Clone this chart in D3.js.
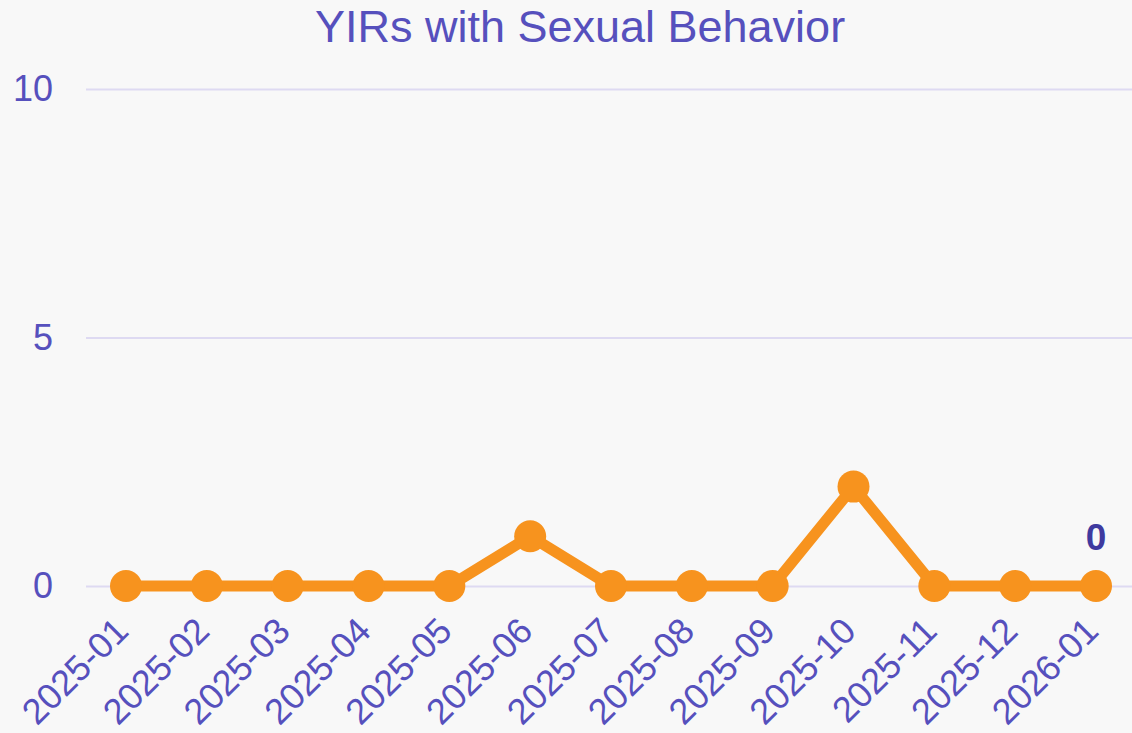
<!DOCTYPE html>
<html>
<head>
<meta charset="utf-8">
<script src="https://cdn.jsdelivr.net/npm/d3@7"></script>
<style>
  html, body { margin: 0; padding: 0; background: #f8f8f8; }
  svg { display: block; font-family: "Liberation Sans", Arial, sans-serif; }
</style>
</head>
<body>
<svg id="grafico" width="1132" height="733"></svg>
<script>
const titulo = 'YIRs with Sexual Behavior';
const meses = ['2025-01','2025-02','2025-03','2025-04','2025-05','2025-06','2025-07',
  '2025-08','2025-09','2025-10','2025-11','2025-12','2026-01'];
const valores = [0, 0, 0, 0, 0, 1, 0, 0, 0, 2, 0, 0, 0];
const ticks_y = [0, 5, 10];

const ancho = 1132, alto = 733;
const margen = { top: 89, right: 36, bottom: 147, left: 126 };
const color_texto = '#5650bd';
const color_linea = '#f7931e';

const svg = d3.select('#grafico');

const x = d3.scalePoint()
  .domain(meses)
  .range([margen.left, ancho - margen.right]);

const y = d3.scaleLinear()
  .domain([0, 10])
  .range([alto - margen.bottom, margen.top]);

// fondo
svg.append('rect')
  .attr('width', ancho).attr('height', alto)
  .attr('fill', '#f8f8f8');

// titulo
svg.append('text')
  .attr('x', 580).attr('y', 42)
  .attr('text-anchor', 'middle')
  .attr('font-size', 45)
  .attr('fill', color_texto)
  .text(titulo);

// grilla + eje y
const ejeY = svg.append('g')
  .attr('transform', `translate(86,0)`)
  .call(d3.axisLeft(y).tickValues(ticks_y).tickSize(-(ancho - 86)).tickPadding(33));

ejeY.select('.domain').remove();
ejeY.selectAll('.tick line')
  .attr('stroke', '#dedaf2')
  .attr('stroke-width', 2);
ejeY.selectAll('.tick text')
  .attr('font-size', 36)
  .attr('font-family', '"Liberation Sans", Arial, sans-serif')
  .attr('fill', color_texto);

// eje x
const ejeX = svg.append('g')
  .attr('transform', `translate(0,${alto - margen.bottom})`)
  .call(d3.axisBottom(x).tickSize(0).tickPadding(0));

ejeX.select('.domain').remove();
ejeX.selectAll('.tick text')
  .attr('font-size', 36)
  .attr('font-family', '"Liberation Sans", Arial, sans-serif')
  .attr('fill', color_texto)
  .attr('text-anchor', 'end')
  .attr('dy', null)
  .attr('y', 0)
  .attr('transform', 'translate(4,47) rotate(-45)');

// linea
const linea = d3.line()
  .x((d, i) => x(meses[i]))
  .y(d => y(d));

svg.append('path')
  .datum(valores)
  .attr('fill', 'none')
  .attr('stroke', color_linea)
  .attr('stroke-width', 11)
  .attr('stroke-linejoin', 'round')
  .attr('d', linea);

svg.selectAll('.punto')
  .data(valores)
  .join('circle')
  .attr('class', 'punto')
  .attr('cx', (d, i) => x(meses[i]))
  .attr('cy', d => y(d))
  .attr('r', 16)
  .attr('fill', color_linea);

// etiqueta del ultimo valor
const ultimo = valores.length - 1;
svg.append('text')
  .attr('x', x(meses[ultimo]))
  .attr('y', y(valores[ultimo]) - 36)
  .attr('text-anchor', 'middle')
  .attr('font-size', 37)
  .attr('font-weight', 'bold')
  .attr('fill', '#3f3a9f')
  .text(valores[ultimo]);
</script>
</body>
</html>
